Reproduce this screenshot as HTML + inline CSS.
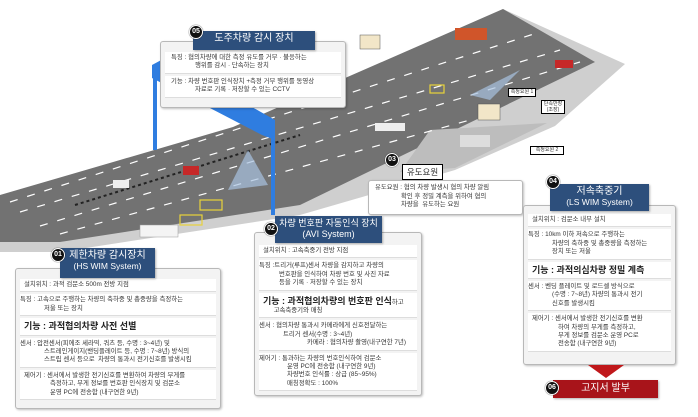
<!DOCTYPE html>
<html><head><meta charset="utf-8"><style>
*{margin:0;padding:0;box-sizing:border-box}
body{width:698px;height:417px;background:#fff;position:relative;overflow:hidden;font-family:"Liberation Sans","Noto Sans CJK KR",sans-serif;color:#333}
.a{position:absolute}
.box{position:absolute;background:#f3f3f3;border:1px solid #b8b8b8;border-radius:3px;box-shadow:1px 1px 2px rgba(0,0,0,.25);padding:3px 4px}
.row{background:#fff;border-bottom:1px solid #ddd;font-size:6.4px;line-height:8.4px;padding:2px 4px;margin-bottom:2px}
.row b{font-size:9px;line-height:12px;color:#222}
.ti{position:absolute;background:#2d4f7c;color:#fff;text-align:center;font-size:9.5px;line-height:11px;padding-top:2px;box-shadow:1px 1px 2px rgba(0,0,0,.3)}
.bd{position:absolute;width:14px;height:14px;border-radius:50%;background:#111;border:1.5px solid #fff;color:#fff;font-size:7px;font-weight:bold;text-align:center;line-height:11px;box-shadow:0 0 1px #000}
.in{padding-left:24px;text-indent:-24px}
</style></head><body>
<svg class="a" style="left:0;top:0" width="698" height="417">
<polygon points="0,200 120,162 233,128 503,9 625,64 555,126 455,170 300,215 60,252 0,252" fill="#cfcfcf"/>
<polygon points="0,195 120,160 233,127 503,9 595,62 300,205 60,242 0,242" fill="#727272"/>
<polygon points="430,130 547,123 455,168 400,172" fill="#bdbdbd"/>
<g stroke="#fff" stroke-width="1.2" stroke-dasharray="8,10">
<line x1="20" y1="212" x2="560" y2="50"/><line x1="40" y1="226" x2="580" y2="62"/>
<line x1="10" y1="202" x2="540" y2="32"/>
<line x1="60" y1="234" x2="470" y2="120"/>
</g>
<line x1="75" y1="205" x2="300" y2="135" stroke="#222" stroke-width="2" stroke-dasharray="3,3"/>
<polygon points="152,65 165,58 275,120 275,140 262,135 152,78" fill="#2f7de0"/>
<rect x="153" y="70" width="4" height="80" fill="#2f7de0"/>
<rect x="271" y="125" width="4" height="90" fill="#2f7de0"/>
<polygon points="248,150 228,190 268,185" fill="#a8c2e0" opacity=".7"/>
<polygon points="520,70 470,95 490,100" fill="#a8c2e0" opacity=".7"/>
<rect x="310" y="85" width="14" height="22" fill="#2a58c8"/>
<text x="313" y="100" font-size="5" fill="#fff">검문소</text>
<g fill="none" stroke="#e8d23a" stroke-width="1.2"><rect x="180" y="215" width="22" height="10"/><rect x="200" y="200" width="22" height="10"/><rect x="430" y="85" width="14" height="8"/></g>
<rect x="140" y="225" width="38" height="12" fill="#f4f4f4" stroke="#999" stroke-width=".5"/>
<rect x="455" y="28" width="32" height="12" fill="#d0552a"/>
<rect x="183" y="166" width="16" height="9" fill="#c62828"/>
<rect x="113" y="180" width="16" height="8" fill="#eee"/>
<rect x="555" y="60" width="18" height="8" fill="#c62828"/>
<rect x="375" y="123" width="30" height="8" fill="#eee"/>
<rect x="460" y="135" width="30" height="12" fill="#ddd"/>
<rect x="478" y="104" width="22" height="16" fill="#f2e6c8" stroke="#555" stroke-width=".5"/>
<rect x="360" y="35" width="20" height="14" fill="#f2e6c8" stroke="#555" stroke-width=".5"/>
</svg>
<div class="a" style="left:508px;top:88px;width:28px;height:9px;border:1px solid #000;background:#fff;font-size:5px;text-align:center;line-height:7px">측정요원 1</div>
<div class="a" style="left:541px;top:100px;width:24px;height:14px;border:1px solid #000;background:#fff;font-size:5px;text-align:center;line-height:6px">단속반장<br>(조장)</div>
<div class="a" style="left:530px;top:146px;width:34px;height:9px;border:1px solid #000;background:#fff;font-size:5px;text-align:center;line-height:7px">측정요원 2</div>

<!-- 05 -->
<div class="box" style="left:160px;top:41px;width:186px;height:67px;padding-top:10px">
<div class="row in" style="padding-left:30px;text-indent:-24px">특징 : 협의차량에 대한 측정 유도를 거부 · 불응하는<br>행위를 감시 · 단속하는 장치</div>
<div class="row in" style="padding-left:30px;text-indent:-24px">기능 : 차량 번호판 인식장치 +측정 거부 행위를 동영상<br>자료로 기록 · 저장할 수 있는 CCTV</div>
</div>
<div class="ti" style="left:193px;top:31px;width:122px;height:19px;font-size:10px">도주차량 감시 장치</div>
<div class="bd" style="left:189px;top:25px">05</div>

<!-- 03 -->
<div class="a" style="left:402px;top:164px;width:41px;height:16px;border:1px solid #000;background:#fff;font-size:8.5px;text-align:center;line-height:14px">유도요원</div>
<div class="bd" style="left:385px;top:153px">03</div>
<div class="box" style="left:368px;top:180px;width:155px;height:35px;background:#fff;padding:3px 6px;font-size:6.4px;line-height:8.5px">
<div style="padding-left:26px;text-indent:-26px">유도요원 : 협의 차량 발생시 협의 차량 알림<br>확인 후 정밀 계측을 위하여 협의<br>차량을 &nbsp;유도하는 요원</div></div>

<!-- 01 -->
<div class="box" style="left:15px;top:268px;width:206px;height:141px;padding-top:10px">
<div class="row">설치위치 : 과적 검문소 500m 전방 지점</div>
<div class="row in">특징 : 고속으로 주행하는 차량의 축하중 및 총중량을 측정하는<br>저울 또는 장치</div>
<div class="row"><b>기능 : 과적협의차량 사전 선별</b></div>
<div class="row in">센서 : 압전센서(피에조 세라믹, 쿼츠 등, 수명 : 3~4년) 및<br>스트레인게이지(밴딩플레이트 등, 수명 : 7~8년) 방식의<br>스트립 센서 등으로 &nbsp;차량의 통과시 전기신호를 발생시킴</div>
<div class="row in" style="padding-left:30px;text-indent:-26px">제어기 : 센서에서 발생한 전기신호를 변환하여 차량의 무게를<br>측정하고, 무게 정보를 번호판 인식장치 및 검문소<br>운영 PC에 전송함 (내구연한 9년)</div>
</div>
<div class="ti" style="left:60px;top:248px;width:95px;height:30px;font-size:10px">제한차량 감시장치<br><span style="font-size:8.5px">(HS WIM System)</span></div>
<div class="bd" style="left:51px;top:248px">01</div>

<!-- 02 -->
<div class="box" style="left:254px;top:232px;width:168px;height:164px;padding-top:12px">
<div class="row">설치위치 : 고속축중기 전방 지점</div>
<div class="row in" style="padding-left:20px;text-indent:-20px">특징 :트리거(루프)센서 차량을 감지하고 차량의<br>번호판을 인식하여 차량 번호 및 사진 자료<br>등을 기록 · 저장할 수 있는 장치</div>
<div class="row"><b>기능 : 과적협의차량의 번호판 인식</b>하고<br>&nbsp;&nbsp;&nbsp;&nbsp;&nbsp;&nbsp;고속축중기와 매칭</div>
<div class="row in">센서 : 협의차량 통과시 카메라에게 신호전달하는<br>트리거 센서(수명 : 3~4년)<br><span style="padding-left:24px">카메라 : 협의차량 촬영(내구연한 7년)</span></div>
<div class="row in" style="padding-left:28px;text-indent:-28px">제어기 : 통과하는 차량의 번호인식하여 검문소<br>운영 PC에 전송함 (내구연한 9년)<br>차량번호 인식률 : 상급 (85~95%)<br>매칭정확도 : 100%</div>
</div>
<div class="ti" style="left:275px;top:216px;width:107px;height:27px;font-size:9px">차량 번호판 자동인식 장치<br>(AVI System)</div>
<div class="bd" style="left:264px;top:222px">02</div>

<!-- 04 -->
<div class="box" style="left:523px;top:205px;width:153px;height:160px;padding-top:8px">
<div class="row">설치위치 : 검문소 내부 설치</div>
<div class="row in">특징 : 10km 이하 저속으로 주행하는<br>차량의 축하중 및 총중량을 측정하는<br>장치 또는 저울</div>
<div class="row"><b>기능 : 과적의심차량 정밀 계측</b></div>
<div class="row in">센서 : 벤딩 플레이트 및 로드셀 방식으로<br>(수명 : 7~8년) 차량의 통과시 전기<br>신호를 발생시킴</div>
<div class="row in" style="padding-left:30px;text-indent:-26px">제어기 : 센서에서 발생한 전기신호를 변환<br>하여 차량의 무게를 측정하고,<br>무게 정보를 검문소 운영 PC로<br>전송함 (내구연한 9년)</div>
</div>
<div class="ti" style="left:550px;top:184px;width:99px;height:27px;font-size:10px">저속축중기<br><span style="font-size:8.5px">(LS WIM System)</span></div>
<div class="bd" style="left:546px;top:175px">04</div>
<svg class="a" style="left:588px;top:365px" width="36" height="14"><polygon points="0,0 36,0 18,13" fill="#c0181b"/></svg>
<div class="a" style="left:553px;top:380px;width:105px;height:18px;background:#a8141a;color:#fff;font-size:10px;text-align:center;line-height:18px;box-shadow:1px 1px 2px rgba(0,0,0,.3)">고지서 발부</div>
<div class="bd" style="left:545px;top:381px">06</div>
</body></html>
